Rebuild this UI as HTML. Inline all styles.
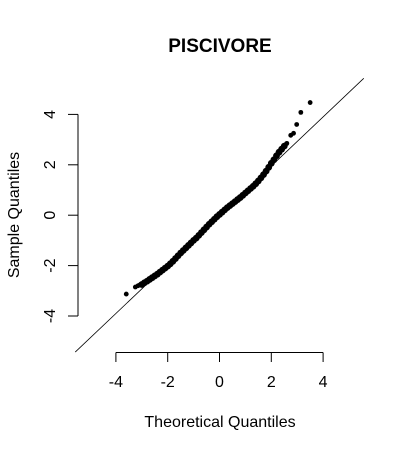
<!DOCTYPE html>
<html><head><meta charset="utf-8"><style>
body{margin:0;background:#fff}
svg{display:block;font-family:"Liberation Sans",Arial,sans-serif}
</style></head><body>
<svg id="chart" width="400" height="450">
<text x="220" y="52" text-anchor="middle" font-size="19" font-weight="bold">PISCIVORE</text>
<g id="axes"></g><g id="pts"></g>
<text x="220" y="427" text-anchor="middle" font-size="16">Theoretical Quantiles</text>
<text transform="translate(19,215) rotate(-90)" text-anchor="middle" font-size="16">Sample Quantiles</text>
</svg>
<script>
const theoretical=[-3.6,-3.25,-3.15,-3.08,-3.0,-2.9,-2.8,-2.7,-2.6,-2.5,-2.4,-2.3,-2.2,-2.1,-2.0,-1.9,-1.8,-1.7,-1.6,-1.5,-1.4,-1.3,-1.2,-1.1,-1.0,-0.9,-0.8,-0.7,-0.6,-0.5,-0.4,-0.3,-0.2,-0.1,0,0.1,0.2,0.3,0.4,0.5,0.6,0.7,0.8,0.9,1.0,1.1,1.2,1.3,1.4,1.5,1.6,1.7,1.8,1.9,2.0,2.1,2.2,2.3,2.4,2.5,2.55,2.6,2.75,2.86,2.98,3.14,3.5];
const sample=[-3.13,-2.85,-2.8,-2.77,-2.75,-2.68,-2.62,-2.55,-2.48,-2.41,-2.34,-2.26,-2.18,-2.10,-2.02,-1.93,-1.83,-1.72,-1.61,-1.50,-1.40,-1.30,-1.20,-1.10,-1.00,-0.91,-0.80,-0.69,-0.58,-0.47,-0.36,-0.26,-0.16,-0.06,0.03,0.12,0.21,0.30,0.38,0.46,0.54,0.62,0.70,0.79,0.88,0.97,1.06,1.15,1.25,1.36,1.48,1.61,1.75,1.90,2.06,2.20,2.36,2.50,2.62,2.74,2.8,2.85,3.17,3.25,3.6,4.08,4.47];
const xTicks=[-4,-2,0,2,4];
const yTicks=[-4,-2,0,2,4];
const lineIntercept=0;
const lineSlope=0.975;
const xDomain=[-5.57,5.57];
const NS="http://www.w3.org/2000/svg";
const X=v=>219.5+v*25.9, Y=v=>215.2-v*25.2;
const ax=document.getElementById('axes'), pts=document.getElementById('pts');
function mk(tag,attrs,parent){const e=document.createElementNS(NS,tag);for(const k in attrs)e.setAttribute(k,attrs[k]);parent.appendChild(e);return e;}
let l=mk('line',{x1:X(-4),x2:X(4),y1:352.5,y2:352.5,stroke:'#000'},ax);


xTicks.forEach(v=>{
  const t=mk('line',{x1:X(v),x2:X(v),y1:352.5,y2:362,stroke:'#000'},ax);
  
  
  const s=mk('text',{x:X(v),y:387,'text-anchor':'middle','font-size':16},ax);s.textContent=v;
  
  
});
l=mk('line',{x1:78,x2:78,y1:Y(4),y2:Y(-4),stroke:'#000'},ax);


yTicks.forEach(v=>{
  const t=mk('line',{x1:68,x2:78,y1:Y(v),y2:Y(v),stroke:'#000'},ax);
  
  
  const s=mk('text',{transform:`translate(55,${Y(v)}) rotate(-90)`,'text-anchor':'middle','font-size':16},ax);s.textContent=v;
  
  
});
const ql=mk('line',{x1:X(xDomain[0]),y1:Y(lineIntercept+lineSlope*xDomain[0]),x2:X(xDomain[1]),y2:Y(lineIntercept+lineSlope*xDomain[1]),stroke:'#000','stroke-width':0.8},pts);


theoretical.forEach((t,i)=>{
  const c=mk('circle',{cx:X(t),cy:Y(sample[i]),r:(i<4||i>59)?2.4:3.4,fill:'#000'},pts);
  
  
});
</script>
</body></html>
